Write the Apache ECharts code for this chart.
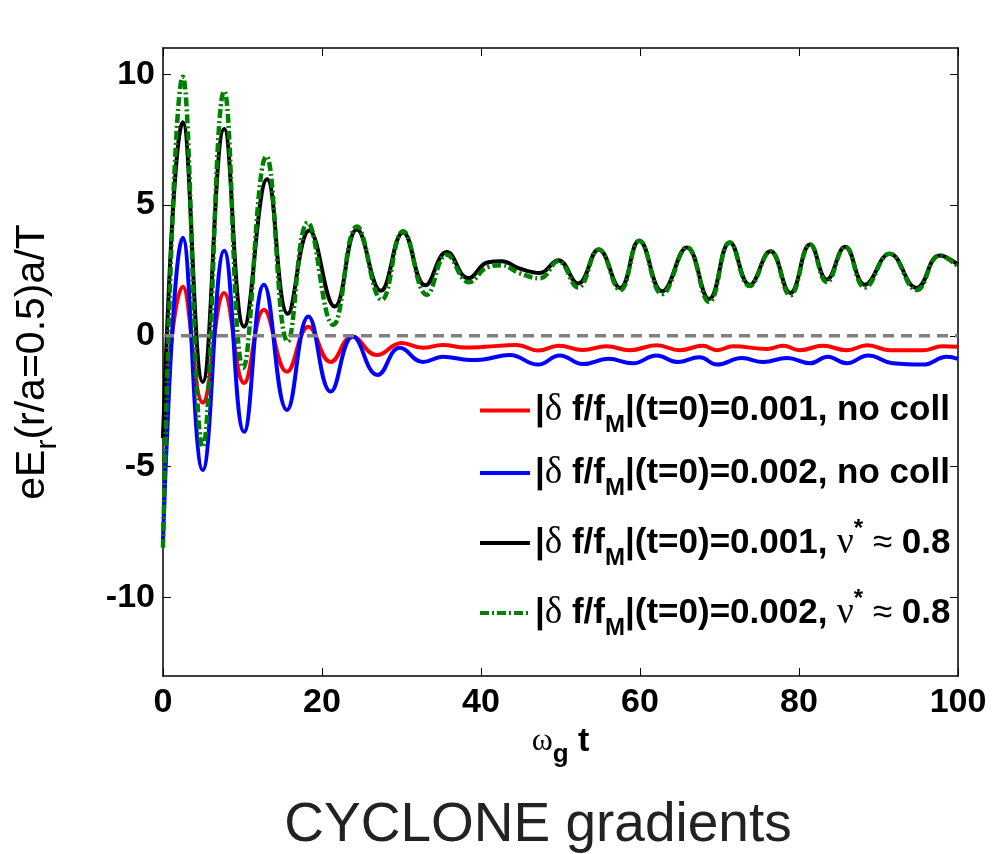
<!DOCTYPE html>
<html>
<head>
<meta charset="utf-8">
<script src="https://cdn.jsdelivr.net/npm/echarts@6/dist/echarts.min.js"></script>
<style>
html,body{margin:0;padding:0;background:#fff;}
#chart{width:992px;height:854px;}
</style>
</head>
<body>
<div id="chart"></div>
<script>
// ---- data (omega_g t, eE_r a/T) ----
var redT = [0, 2.5, 5.0, 7.7, 10.2, 12.7, 15.6, 18.3, 21.1, 23.8, 26.9, 30.0, 32.7, 35.2, 38.0, 40.5, 44.5, 47.2, 49.8, 52.8, 55.8, 58.7, 62.1, 65.0, 67.9, 69.7, 71.7, 76.0, 78.0, 80.1, 83.0, 86.0, 88.6, 91.4, 95.6, 98.0, 100];
var redE = [-3.9, 1.88, -2.55, 1.64, -1.8, 1.0, -1.37, 0.35, -1.0, -0.03, -0.73, -0.27, -0.46, -0.35, -0.45, -0.42, -0.35, -0.56, -0.38, -0.54, -0.4, -0.55, -0.36, -0.55, -0.38, -0.55, -0.4, -0.5, -0.38, -0.55, -0.38, -0.55, -0.36, -0.55, -0.55, -0.4, -0.42];

var blueT = [0, 2.5, 5.0, 7.7, 10.2, 12.7, 15.6, 18.3, 21.1, 23.9, 27.0, 29.8, 32.7, 35.2, 38.6, 40.3, 43.6, 47.2, 49.9, 52.8, 56.0, 59.1, 62.1, 64.7, 67.5, 69.7, 72.8, 75.5, 78.5, 81.4, 83.6, 86.0, 88.7, 91.8, 95.6, 98.6, 100];
var blueE = [-7.8, 3.75, -5.13, 3.25, -3.67, 1.95, -2.83, 0.74, -2.13, -0.03, -1.5, -0.46, -1.0, -0.8, -0.92, -0.9, -0.73, -1.1, -0.75, -1.08, -0.88, -1.05, -0.75, -1.0, -0.82, -1.1, -0.85, -1.0, -0.85, -1.05, -0.8, -1.05, -0.75, -1.05, -1.1, -0.8, -0.88];

var blackT = [0, 2.5, 5.0, 7.7, 10.2, 13.1, 15.7, 18.4, 21.6, 24.4, 27.4, 30.2, 33.0, 35.7, 38.4, 40.8, 42.6, 44.8, 47.4, 49.7, 52.2, 54.8, 57.5, 59.9, 62.8, 65.9, 68.7, 71.3, 73.8, 76.4, 78.9, 81.4, 83.5, 85.8, 88.3, 91.4, 94.8, 97.7, 100];
var blackE = [-3.9, 8.16, -1.76, 7.9, 0.35, 5.98, 0.84, 4.03, 1.12, 4.06, 1.72, 3.95, 1.93, 3.2, 2.2, 2.8, 2.85, 2.58, 2.4, 2.89, 2.0, 3.3, 1.83, 3.63, 1.7, 3.38, 1.41, 3.57, 1.95, 3.23, 1.64, 3.49, 2.15, 3.4, 1.95, 3.14, 1.83, 3.07, 2.72];

var greenT = [0, 2.5, 5.0, 7.7, 10.1, 13.0, 15.7, 18.2, 21.4, 24.4, 27.5, 30.2, 33.2, 35.7, 38.5, 40.8, 42.6, 44.8, 47.4, 49.7, 52.2, 54.8, 57.5, 59.9, 62.8, 65.9, 68.7, 71.3, 73.8, 76.4, 78.9, 81.4, 83.5, 85.8, 88.3, 91.4, 94.8, 97.7, 100];
var greenE = [-8.1, 9.9, -4.25, 9.35, -1.23, 6.86, -0.22, 4.33, 0.42, 4.18, 1.38, 4.0, 1.57, 3.1, 2.05, 2.62, 2.7, 2.4, 2.2, 2.85, 1.85, 3.3, 1.75, 3.63, 1.6, 3.38, 1.3, 3.57, 1.9, 3.23, 1.55, 3.49, 2.05, 3.4, 1.85, 3.14, 1.75, 3.07, 2.65];

var zeroT = [0, 100];
var zeroE = [0, 0];

var seriesNames = [
  '|δ f/fM|(t=0)=0.001, no coll',
  '|δ f/fM|(t=0)=0.002, no coll',
  '|δ f/fM|(t=0)=0.001, ν* ≈ 0.8',
  '|δ f/fM|(t=0)=0.002, ν* ≈ 0.8'
];
var legendRich = [
  '{b||}{g|δ}{b| f/f}{sub|M}{b||(t=0)=0.001, no coll}',
  '{b||}{g|δ}{b| f/f}{sub|M}{b||(t=0)=0.002, no coll}',
  '{b||}{g|δ}{b| f/f}{sub|M}{b||(t=0)=0.001, }{g|ν}{sup|*}{r| ≈ }{b|0.8}',
  '{b||}{g|δ}{b| f/f}{sub|M}{b||(t=0)=0.002, }{g|ν}{sup|*}{r| ≈ }{b|0.8}'
];
var xTicks = [0, 20, 40, 60, 80, 100];
var yTicks = [-10, -5, 0, 5, 10];
var captionText = 'CYCLONE gradients';

function pairs(t, e) { return t.map(function (v, i) { return [v, e[i]]; }); }

var chart = echarts.init(document.getElementById('chart'), null, {renderer: 'canvas'});
var sans = 'Liberation Sans';
var axisLineStyle = {color: '#000', width: 1.5};

var option = {
  backgroundColor: '#fff',
  animation: false,
  graphic: [{
    type: 'text', x: 538, y: 826,
    style: {text: captionText, fontFamily: sans, fontSize: 55, fill: '#222',
            textAlign: 'center', textVerticalAlign: 'middle'}
  }],
  grid: {left: 163, right: 34, top: 48, bottom: 178, containLabel: false},
  legend: {
    orient: 'vertical',
    left: 473,
    top: 387,
    itemWidth: 50,
    itemHeight: 14,
    itemGap: 17,
    itemStyle: {opacity: 0},
    lineStyle: {width: 4},
    data: seriesNames,
    formatter: function (name) { return legendRich[seriesNames.indexOf(name)]; },
    textStyle: {
      fontFamily: sans, fontSize: 35, fontWeight: 'bold', color: '#000',
      rich: {
        b: {fontFamily: sans, fontSize: 35, fontWeight: 'bold', color: '#000'},
        r: {fontFamily: sans, fontSize: 35, fontWeight: 'normal', color: '#000'},
        g: {fontFamily: 'Liberation Serif', fontSize: 37, fontWeight: 'normal', color: '#000'},
        sub: {fontFamily: sans, fontSize: 24, fontWeight: 'bold', color: '#000', padding: [30, 0, 0, 0]},
        sup: {fontFamily: sans, fontSize: 24, fontWeight: 'bold', color: '#000', padding: [0, 0, 28, 0]}
      }
    }
  },
  xAxis: [{
    type: 'value', min: 0, max: 100, interval: 20,
    axisLine: {show: true, onZero: false, lineStyle: axisLineStyle},
    axisTick: {show: true, inside: true, length: 8, lineStyle: {color: '#000', width: 1}},
    splitLine: {show: false},
    axisLabel: {fontFamily: sans, fontSize: 34, fontWeight: 'bold', color: '#000', margin: 10},
    name: '{w|ω}{sub|g}{t| t}',
    nameLocation: 'middle',
    nameGap: 34,
    nameTextStyle: {
      rich: {
        w: {fontFamily: 'Liberation Serif', fontSize: 32, color: '#000'},
        sub: {fontFamily: sans, fontSize: 26, fontWeight: 'bold', color: '#000', padding: [26, 0, 0, 0]},
        t: {fontFamily: sans, fontSize: 34, fontWeight: 'bold', color: '#000'}
      }
    }
  }, {
    type: 'value', min: 0, max: 100, interval: 20, position: 'top',
    axisLine: {show: true, onZero: false, lineStyle: axisLineStyle},
    axisTick: {show: true, inside: true, length: 8, lineStyle: {color: '#000', width: 1}},
    axisLabel: {show: false}, splitLine: {show: false}
  }],
  yAxis: [{
    type: 'value', min: -13, max: 11,
    axisLine: {show: true, onZero: false, lineStyle: axisLineStyle},
    axisTick: {show: true, inside: true, length: 8, customValues: yTicks, lineStyle: {color: '#000', width: 1}},
    splitLine: {show: false},
    axisLabel: {fontFamily: sans, fontSize: 34, fontWeight: 'bold', color: '#000', margin: 8, customValues: yTicks},
    name: '{t|eE}{sub|r}{t|(r/a=0.5)a/T}',
    nameLocation: 'middle',
    nameGap: 100,
    nameTextStyle: {
      rich: {
        t: {fontFamily: sans, fontSize: 41, color: '#000'},
        sub: {fontFamily: sans, fontSize: 30, color: '#000', padding: [30, 0, 0, 0]}
      }
    }
  }, {
    type: 'value', min: -13, max: 11, position: 'right',
    axisLine: {show: true, onZero: false, lineStyle: axisLineStyle},
    axisTick: {show: true, inside: true, length: 8, customValues: yTicks, lineStyle: {color: '#000', width: 1}},
    axisLabel: {show: false}, splitLine: {show: false}
  }],
  series: [
    {name: seriesNames[0], type: 'line', data: pairs(redT, redE), smooth: 0.45, symbol: 'none',
     lineStyle: {color: '#ff0000', width: 4}, itemStyle: {color: '#ff0000'}, z: 2},
    {name: seriesNames[1], type: 'line', data: pairs(blueT, blueE), smooth: 0.45, symbol: 'none',
     lineStyle: {color: '#0000ff', width: 4}, itemStyle: {color: '#0000ff'}, z: 3},
    {name: seriesNames[2], type: 'line', data: pairs(blackT, blackE), smooth: 0.45, symbol: 'none',
     lineStyle: {color: '#000000', width: 4}, itemStyle: {color: '#000000'}, z: 4},
    {name: seriesNames[3], type: 'line', data: pairs(greenT, greenE), smooth: 0.45, symbol: 'none',
     lineStyle: {color: '#008000', width: 4.5, type: [9, 3, 2, 3]}, itemStyle: {color: '#008000'}, z: 5},
    {name: 'zero', type: 'line', data: pairs(zeroT, zeroE), symbol: 'none', silent: true,
     lineStyle: {color: '#808080', width: 3.5, type: [11, 7]}, z: 6}
  ]
};
chart.setOption(option);
</script>
</body>
</html>
